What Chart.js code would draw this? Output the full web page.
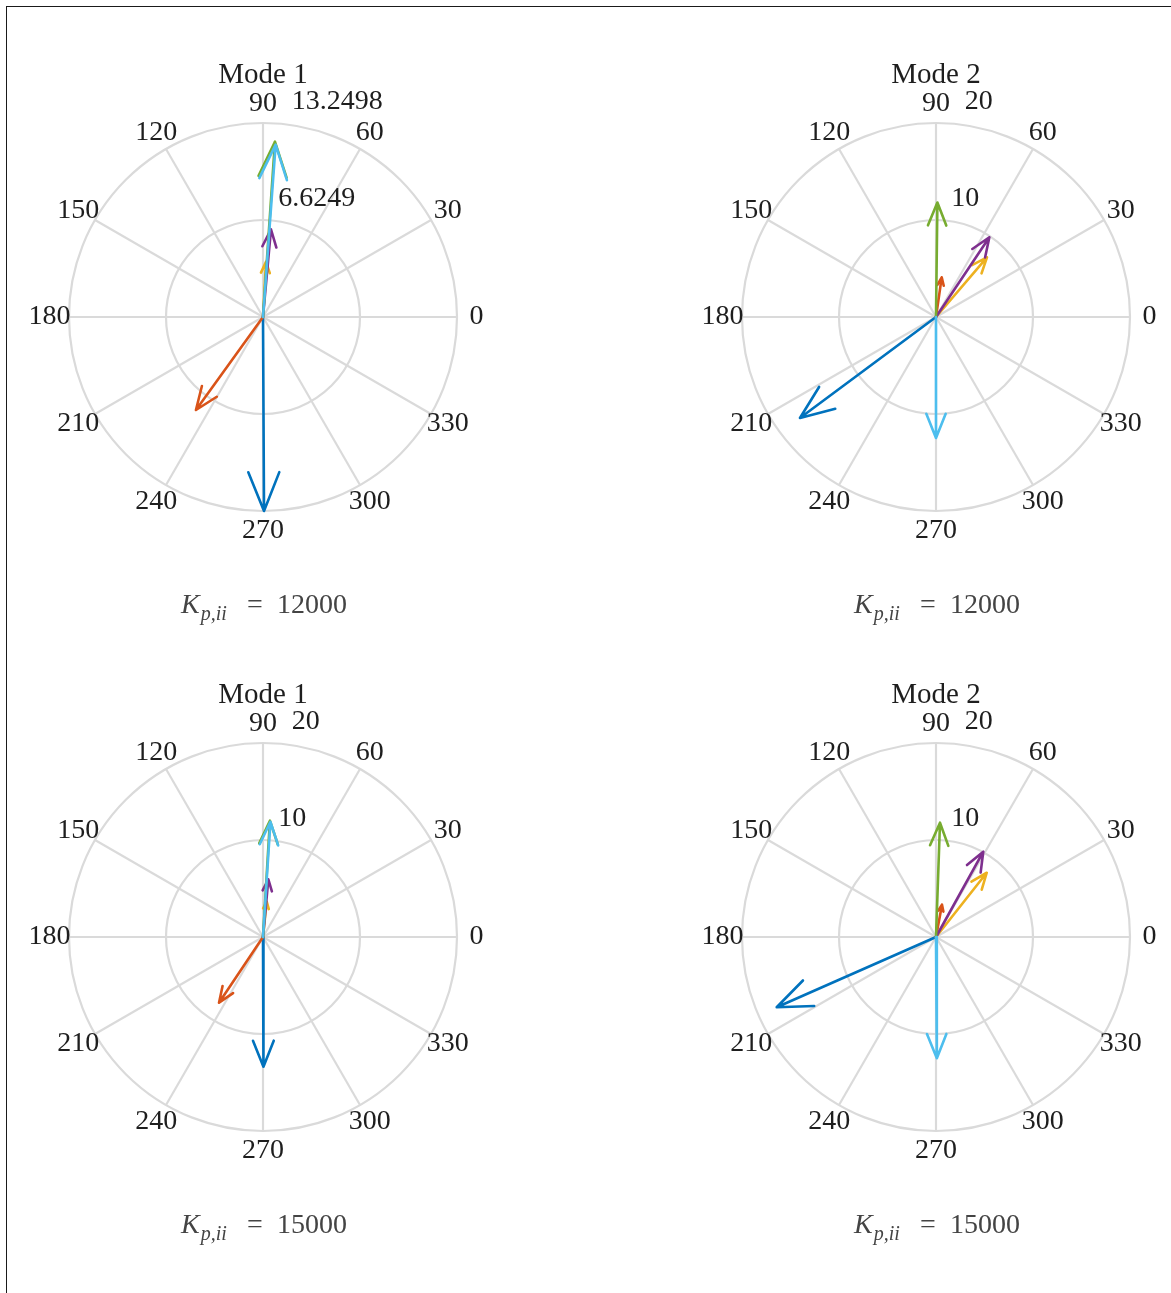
<!DOCTYPE html>
<html>
<head>
<meta charset="utf-8">
<title>Compass plots of mode shapes</title>
<script src="https://cdn.jsdelivr.net/npm/chart.js@4/dist/chart.umd.min.js"></script>
<style>
  html, body { margin: 0; padding: 0; background: #ffffff; overflow: hidden; width: 1171px; height: 1293px; }
  #frame { position: absolute; left: 6px; top: 6px; width: 1400px; height: 1500px;
           border-left: 1px solid #1a1a1a; border-top: 1px solid #1a1a1a; }
  canvas { position: absolute; }
</style>
</head>
<body>
<div id="frame"></div>
<canvas id="panel0" width="480" height="580"></canvas>
<canvas id="panel1" width="480" height="580"></canvas>
<canvas id="panel2" width="480" height="580"></canvas>
<canvas id="panel3" width="480" height="580"></canvas>
<script>
// ---- data -------------------------------------------------------------
// vector order: DOF 1..6 (MATLAB default colour order)
const seriesColors = ['#0072BD', '#D95319', '#EDB120', '#7E2F8E', '#77AC30', '#4DBEEE'];
const angleTicks = [0, 30, 60, 90, 120, 150, 180, 210, 240, 270, 300, 330];

const panelTitles = ['Mode 1', 'Mode 2', 'Mode 1', 'Mode 2'];
const stiffnessValues = ['12000', '12000', '15000', '15000'];
const radialMax = [13.2498, 20, 20, 20];
const radialTickLabels = [['6.6249', '13.2498'], ['10', '20'], ['10', '20'], ['10', '20']];

// magnitudes and phase angles (degrees)
const mode1K12000Mag = [13.2498, 7.83, 3.77, 6.01, 12.0, 11.8];
const mode1K12000Ang = [270.3, 234.2, 86.9, 84.8, 86.1, 85.8];

const mode2K12000Mag = [17.47, 4.13, 8.09, 9.89, 11.8, 12.47];
const mode2K12000Ang = [216.6, 81.8, 49.5, 56.2, 89.3, 270.0];

const mode1K15000Mag = [13.37, 8.15, 3.66, 5.97, 12.01, 11.9];
const mode1K15000Ang = [270.2, 236.2, 84.0, 84.7, 86.6, 86.3];

const mode2K15000Mag = [17.95, 3.39, 8.44, 10.05, 11.79, 12.5];
const mode2K15000Ang = [203.8, 79.5, 51.7, 61.0, 88.0, 270.4];

const panelMags = [mode1K12000Mag, mode2K12000Mag, mode1K15000Mag, mode2K15000Mag];
const panelAngs = [mode1K12000Ang, mode2K12000Ang, mode1K15000Ang, mode2K15000Ang];

// ---- layout -----------------------------------------------------------
const panelCenters = [[263, 317], [936, 317], [263, 937], [936, 937]];
const CANVAS_W = 480, CANVAS_H = 580;
const CENTER_X = 240, CENTER_Y = 270;   // pole position inside each canvas
const OUTER_PX = 194;                    // outer ring radius in pixels

const SERIF = '"Liberation Serif", "DejaVu Serif", serif';
const TEXT_COLOR = '#1e1e1e';
const LABEL_COLOR = '#444444';

// compass arrow: shaft plus head, head size proportional to length
function arrowPoints(mag, deg) {
  const t = deg * Math.PI / 180;
  const zx = mag * Math.cos(t), zy = mag * Math.sin(t);
  const shape = [[0, 0], [1, 0], [0.8, 0.08], [1, 0], [0.8, -0.08]];
  return shape.map(([a, b]) => ({ x: a * zx - b * zy, y: a * zy + b * zx }));
}

const compassGrid = {
  id: 'compassGrid',
  beforeDatasetsDraw(chart, args, opts) {
    const { ctx, scales: { x, y } } = chart;
    const cx = x.getPixelForValue(0), cy = y.getPixelForValue(0);
    const pr = x.getPixelForValue(opts.rmax) - cx;
    ctx.save();
    ctx.strokeStyle = '#dadada';
    ctx.lineWidth = 2.2;
    for (const f of [0.5, 1]) {
      ctx.beginPath();
      ctx.arc(cx, cy, pr * f, 0, Math.PI * 2);
      ctx.stroke();
    }
    for (const a of angleTicks) {
      const t = a * Math.PI / 180;
      ctx.beginPath();
      ctx.moveTo(cx, cy);
      ctx.lineTo(cx + pr * Math.cos(t), cy - pr * Math.sin(t));
      ctx.stroke();
    }
    ctx.restore();
  },
  afterDraw(chart, args, opts) {
    const { ctx, scales: { x, y } } = chart;
    const cx = x.getPixelForValue(0), cy = y.getPixelForValue(0);
    const pr = x.getPixelForValue(opts.rmax) - cx;
    ctx.save();
    ctx.fillStyle = TEXT_COLOR;
    ctx.font = '28px ' + SERIF;
    ctx.textAlign = 'center';
    ctx.textBaseline = 'middle';
    // angle labels
    for (const a of angleTicks) {
      const t = a * Math.PI / 180;
      ctx.fillText(String(a), cx + 1.1 * pr * Math.cos(t), cy - 1.1 * pr * Math.sin(t));
    }
    // radial labels along 82 degrees
    ctx.textAlign = 'left';
    const c82 = Math.cos(82 * Math.PI / 180), s82 = Math.sin(82 * Math.PI / 180);
    opts.rlabels.forEach((lab, i) => {
      const r = pr * (i + 1) / 2 + pr / 40;
      ctx.fillText(lab, cx + r * c82 + 1, cy - r * s82 - 18);
    });
    // title
    ctx.textAlign = 'center';
    ctx.font = '29px ' + SERIF;
    ctx.fillText(opts.title, cx, cy - 242);
    // stiffness label: K_{p,ii} = value
    ctx.fillStyle = LABEL_COLOR;
    ctx.textAlign = 'left';
    ctx.textBaseline = 'alphabetic';
    const base = cy + 296;
    ctx.font = 'italic 28px ' + SERIF;
    const kx = cx - 82;
    ctx.fillText('K', kx, base);
    const kw = ctx.measureText('K').width;
    ctx.font = 'italic 20px ' + SERIF;
    ctx.fillText('p,ii', kx + kw + 1, base + 7);
    ctx.font = '28px ' + SERIF;
    ctx.textAlign = 'center';
    ctx.fillText('=', cx - 8, base);
    ctx.textAlign = 'left';
    ctx.fillText(opts.kvalue, cx + 14, base);
    ctx.restore();
  }
};

panelCenters.forEach(([pcx, pcy], p) => {
  const canvas = document.getElementById('panel' + p);
  canvas.style.left = (pcx - CENTER_X) + 'px';
  canvas.style.top = (pcy - CENTER_Y) + 'px';
  const R = radialMax[p];
  const k = R / OUTER_PX;
  const mags = panelMags[p], angs = panelAngs[p];
  new Chart(canvas, {
    type: 'scatter',
    data: {
      datasets: mags.map((m, i) => ({
        data: arrowPoints(m, angs[i]),
        showLine: true,
        borderColor: seriesColors[i],
        backgroundColor: seriesColors[i],
        borderWidth: 2.6,
        pointRadius: 0,
        pointHoverRadius: 0,
        fill: false,
        tension: 0,
        borderCapStyle: 'round',
        borderJoinStyle: 'round',
        clip: false,
        order: mags.length - i
      }))
    },
    options: {
      responsive: false,
      animation: false,
      events: [],
      layout: { padding: 0 },
      plugins: {
        legend: { display: false },
        tooltip: { enabled: false },
        title: { display: false },
        compassGrid: {
          rmax: R,
          rlabels: radialTickLabels[p],
          title: panelTitles[p],
          kvalue: stiffnessValues[p]
        }
      },
      scales: {
        x: { type: 'linear', display: false, min: -CENTER_X * k, max: (CANVAS_W - CENTER_X) * k },
        y: { type: 'linear', display: false, min: -(CANVAS_H - CENTER_Y) * k, max: CENTER_Y * k }
      }
    },
    plugins: [compassGrid]
  });
});
</script>
</body>
</html>
